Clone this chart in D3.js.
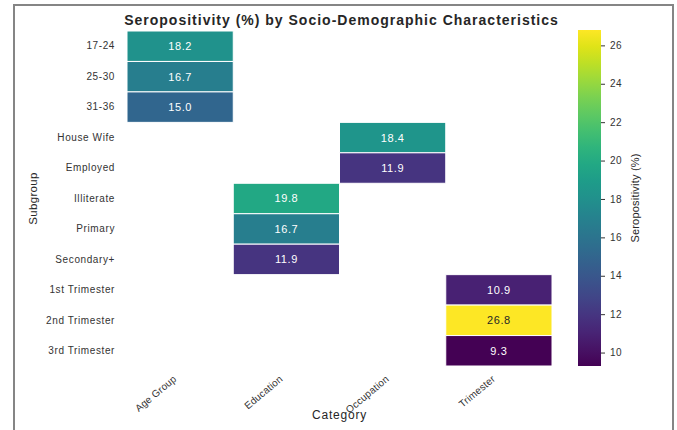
<!DOCTYPE html>
<html>
<head>
<meta charset="utf-8">
<script src="https://cdn.jsdelivr.net/npm/d3@7"></script>
<style>
  html, body { margin: 0; padding: 0; background: #fff; }
  svg { display: block; font-family: "Liberation Sans", Arial, Helvetica, sans-serif; }
</style>
</head>
<body>
<svg id="chart" width="677" height="430"></svg>
<script>
// Column categories and row subgroups of the heatmap
const categories = ["Age Group", "Education", "Occupation", "Trimester"];
const subgroups = ["17-24", "25-30", "31-36", "House Wife", "Employed", "Illiterate",
                   "Primary", "Secondary+", "1st Trimester", "2nd Trimester", "3rd Trimester"];

// Seropositivity (%) per subgroup, grouped by category
const ageGroupValues = [["17-24", 18.2], ["25-30", 16.7], ["31-36", 15.0]];
const educationValues = [["Illiterate", 19.8], ["Primary", 16.7], ["Secondary+", 11.9]];
const occupationValues = [["House Wife", 18.4], ["Employed", 11.9]];
const trimesterValues = [["1st Trimester", 10.9], ["2nd Trimester", 26.8], ["3rd Trimester", 9.3]];

const colorTicks = [10, 12, 14, 16, 18, 20, 22, 24, 26];

const cells = [];
[[categories[0], ageGroupValues], [categories[1], educationValues],
 [categories[2], occupationValues], [categories[3], trimesterValues]].forEach(([cat, rows]) => {
  rows.forEach(([sub, v]) => cells.push({ category: cat, subgroup: sub, value: v }));
});

const svg = d3.select("#chart");

// page frame
svg.append("rect")
  .attr("x", 14).attr("y", 5).attr("width", 659).attr("height", 440)
  .attr("fill", "none").attr("stroke", "#858585").attr("stroke-width", 2);

const plot = { left: 127, right: 552, top: 31, bottom: 366 };

const x = d3.scaleBand().domain(categories).range([plot.left, plot.right]);
const y = d3.scaleBand().domain(subgroups).range([plot.top, plot.bottom]);

const vmin = d3.min(cells, d => d.value), vmax = d3.max(cells, d => d.value);
const color = d3.scaleSequential(d3.interpolateViridis).domain([vmin, vmax]);

// heatmap cells
svg.append("g").selectAll("rect").data(cells).join("rect")
  .attr("x", d => x(d.category))
  .attr("y", d => y(d.subgroup))
  .attr("width", x.bandwidth())
  .attr("height", y.bandwidth())
  .attr("fill", d => color(d.value))
  .attr("stroke", "#fff").attr("stroke-width", 1);

// value annotations
svg.append("g").selectAll("text").data(cells).join("text")
  .attr("x", d => x(d.category) + x.bandwidth() / 2)
  .attr("y", d => y(d.subgroup) + y.bandwidth() / 2)
  .attr("dy", "0.36em")
  .attr("text-anchor", "middle")
  .attr("font-size", 11)
  .attr("letter-spacing", 0.6)
  .attr("fill", d => d.value > 22 ? "#262626" : "#ffffff")
  .text(d => d.value.toFixed(1));

// y axis labels
const yAxis = d3.axisLeft(y).tickSize(0).tickPadding(12);
const gy = svg.append("g").attr("transform", `translate(${plot.left},0)`).call(yAxis);
gy.select(".domain").remove();
gy.selectAll("text").attr("font-size", 10).attr("letter-spacing", 0.6)
  .attr("fill", "#333").attr("font-family", null);

// x axis labels, rotated
const xAxis = d3.axisBottom(x).tickSize(0).tickPadding(0);
const gx = svg.append("g").attr("transform", `translate(0,${plot.bottom})`).call(xAxis);
gx.select(".domain").remove();
gx.selectAll("text")
  .attr("font-size", 10).attr("letter-spacing", 0.2).attr("fill", "#333").attr("font-family", null)
  .attr("text-anchor", "end")
  .attr("dy", null).attr("y", 0)
  .attr("transform", "translate(-3,14) rotate(-40)");

// axis titles
svg.append("text")
  .attr("x", (plot.left + plot.right) / 2).attr("y", 419)
  .attr("text-anchor", "middle").attr("font-size", 12).attr("letter-spacing", 0.8)
  .attr("fill", "#262626")
  .text("Category");
svg.append("text")
  .attr("transform", `translate(37,${(plot.top + plot.bottom) / 2}) rotate(-90)`)
  .attr("text-anchor", "middle").attr("font-size", 11.5).attr("letter-spacing", 0.3)
  .attr("fill", "#262626")
  .text("Subgroup");

// title
svg.append("text")
  .attr("x", (plot.left + plot.right) / 2 + 2).attr("y", 25)
  .attr("text-anchor", "middle").attr("font-size", 14).attr("font-weight", "bold")
  .attr("letter-spacing", 1)
  .attr("fill", "#262626")
  .text("Seropositivity (%) by Socio-Demographic Characteristics");

// colorbar
const cb = { x: 578, w: 23, top: 30, bottom: 366 };
const cScale = d3.scaleLinear().domain([vmin, vmax]).range([cb.bottom, cb.top]);
const defs = svg.append("defs");
const grad = defs.append("linearGradient").attr("id", "cbgrad")
  .attr("x1", 0).attr("y1", 1).attr("x2", 0).attr("y2", 0);
d3.range(0, 1.0001, 0.05).forEach(t => {
  grad.append("stop").attr("offset", t).attr("stop-color", d3.interpolateViridis(t));
});
svg.append("rect")
  .attr("x", cb.x).attr("y", cb.top).attr("width", cb.w).attr("height", cb.bottom - cb.top)
  .attr("fill", "url(#cbgrad)");
const cAxis = d3.axisRight(cScale).tickValues(colorTicks).tickSize(4).tickPadding(5);
const gc = svg.append("g").attr("transform", `translate(${cb.x + cb.w},0)`).call(cAxis);
gc.select(".domain").remove();
gc.selectAll("line").attr("stroke", "#333");
gc.selectAll("text").attr("font-size", 10).attr("letter-spacing", 0.5)
  .attr("fill", "#333").attr("font-family", null);
svg.append("text")
  .attr("transform", `translate(639,${(cb.top + cb.bottom) / 2}) rotate(-90)`)
  .attr("text-anchor", "middle").attr("font-size", 11).attr("letter-spacing", 0.2)
  .attr("fill", "#262626")
  .text("Seropositivity (%)");
</script>
</body>
</html>
